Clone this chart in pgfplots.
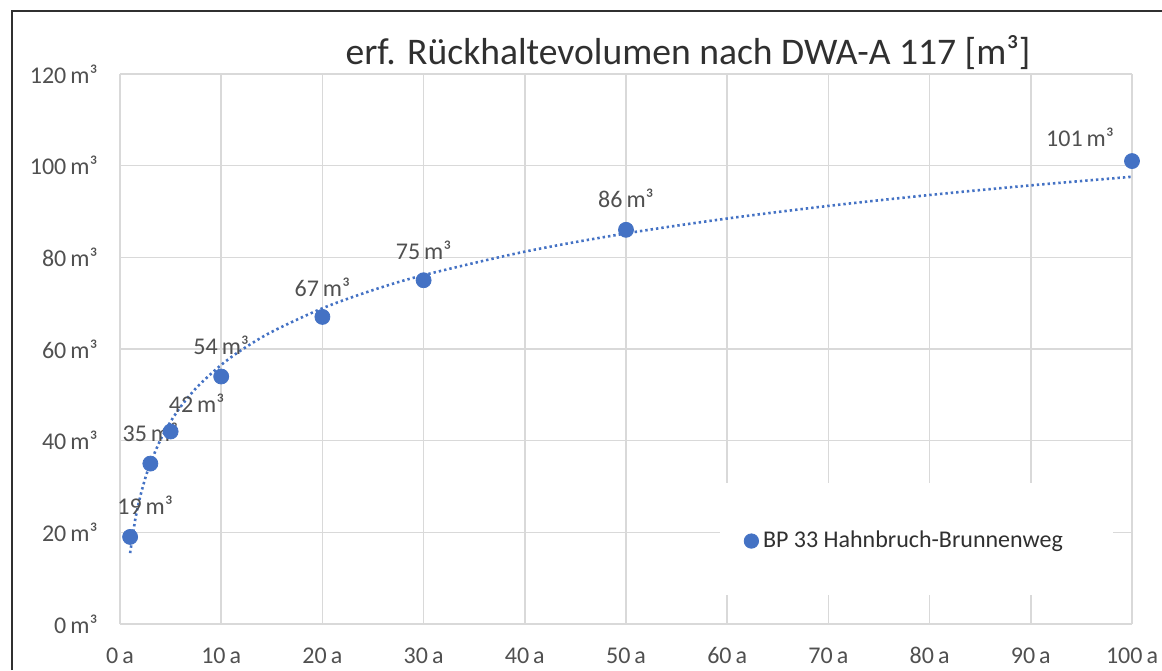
\documentclass[border=0pt]{standalone}
\usepackage{fontspec}
\setmainfont{Carlito}
\usepackage{pgfplots}
\pgfplotsset{compat=1.18}
\usepackage{pgfplotstable}
\definecolor{xblue}{HTML}{4472C4}
\definecolor{xgrid}{HTML}{D9D9D9}
\definecolor{xtext}{HTML}{505050}
\definecolor{xtitle}{HTML}{303030}

\pgfplotstableread{
x y lx ly
1 19 7.5 16
3 35 0 15.8
5 42 13 14.2
10 54 0 15.7
20 67 0 15
30 75 0 15
50 86 0 16
100 101 -26 12
}\pointdata

\pgfplotstableread{
x y
1 15.47
1.5 22.70
2 27.83
2.5 31.81
3 35.06
4 40.19
5 44.17
6 47.42
7 50.17
8 52.55
10 56.53
12 59.78
15 63.75
20 68.88
25 72.86
30 76.11
40 81.24
50 85.22
60 88.47
70 91.22
80 93.60
90 95.70
100 97.58
}\trenddata

\begin{document}
\begin{tikzpicture}
\useasboundingbox (0,0) rectangle (581pt,335pt);
\draw[line width=1pt, color=xtitle] (5.8pt,0pt) -- (5.8pt,329.6pt) -- (581pt,329.6pt);
\begin{axis}[
  at={(60pt,23pt)}, anchor=south west,
  scale only axis, width=506pt, height=275pt,
  xmin=0, xmax=100, ymin=0, ymax=120,
  xtick={0,10,...,100}, ytick={0,20,...,120},
  xticklabels={0\,a,10\,a,20\,a,30\,a,40\,a,50\,a,60\,a,70\,a,80\,a,90\,a,100\,a},
  yticklabels={0\,m³,20\,m³,40\,m³,60\,m³,80\,m³,100\,m³,120\,m³},
  grid=major,
  major grid style={xgrid, line width=0.75pt},
  axis line style={draw=none},
  major tick length=0pt,
  tick style={draw=none},
  ticklabel style={font=\fontsize{12}{14}\selectfont, text=xtext},
  yticklabel style={anchor=east, inner sep=0pt, xshift=-11pt},
  xticklabel style={anchor=base, inner sep=0pt, yshift=-19.5pt},
  clip=false,
  legend style={at={(axis cs:61.6,18.1)}, anchor=west, draw=none, fill=none,
    inner sep=0pt, font=\fontsize{12}{14}\selectfont, text=xtitle},
  legend cell align=left,
  legend image code/.code={\fill[xblue] (0pt,0pt) circle (3.6pt);},
]
\fill[white] (axis cs:59.3,6.3) rectangle (axis cs:98.1,30.8);
\addplot[xblue, line width=1.3pt, dash pattern=on 1.2pt off 1.5pt, smooth, forget plot] table[x=x,y=y] {\trenddata};
\addplot[only marks, mark=*, mark size=3.75pt, mark options={fill=xblue, draw=xblue},
  point meta=explicit symbolic,
  visualization depends on={\thisrow{lx} \as \lx},
  visualization depends on={\thisrow{ly} \as \ly},
  nodes near coords={\pgfplotspointmeta\,m³},
  nodes near coords style={anchor=center, inner sep=0pt, xshift=\lx pt, yshift=\ly pt,
    font=\fontsize{12}{14}\selectfont, text=xtext},
] table[x=x, y=y, meta=y] {\pointdata};
\addlegendentry{BP 33 Hahnbruch-Brunnenweg}
\end{axis}
\node[anchor=base, font=\fontsize{18.8}{22}\selectfont, text=xtitle, inner sep=0pt] at (344pt,302.5pt) {erf. Rückhaltevolumen nach DWA-A 117 [m³]};
\end{tikzpicture}
\end{document}
